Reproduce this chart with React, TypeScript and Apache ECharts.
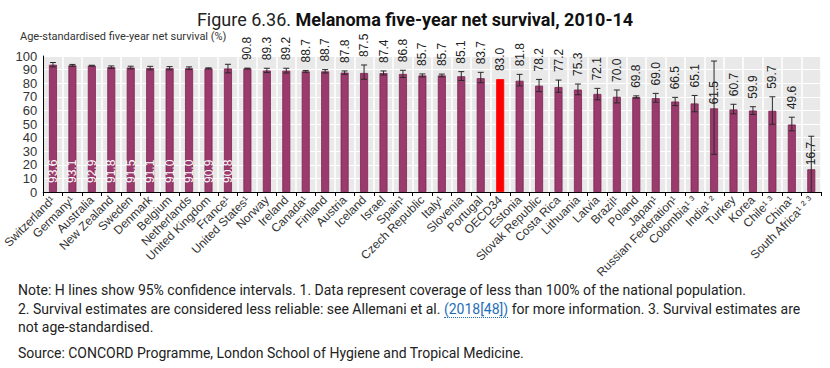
import React, { useEffect, useRef } from "react";
import * as echarts from "echarts";

const countries = [
  "Switzerland¹", "Germany¹", "Australia", "New Zealand", "Sweden", "Denmark", "Belgium",
  "Netherlands", "United Kingdom", "France¹", "United States¹", "Norway", "Ireland", "Canada¹",
  "Finland", "Austria", "Iceland", "Israel", "Spain¹", "Czech Republic", "Italy¹", "Slovenia",
  "Portugal", "OECD34", "Estonia", "Slovak Republic", "Costa Rica", "Lithuania", "Latvia",
  "Brazil¹", "Poland", "Japan¹", "Russian Federation¹", "Colombia¹ ³", "India¹ ²", "Turkey",
  "Korea", "Chile¹ ³", "China¹", "South Africa¹ ² ³",
];
const survival = [
  93.6, 93.1, 92.9, 91.8, 91.5, 91.1, 91.0, 91.0, 90.9, 90.8, 90.8, 89.3, 89.2, 88.7, 88.7,
  87.8, 87.5, 87.4, 86.8, 85.7, 85.7, 85.1, 83.7, 83.0, 81.8, 78.2, 77.2, 75.3, 72.1, 70.0,
  69.8, 69.0, 66.5, 65.1, 61.5, 60.7, 59.9, 59.7, 49.6, 16.7,
];
const ciLow = [
  92.0, 92.4, 92.6, 90.9, 90.5, 89.8, 89.8, 90.0, 90.5, 87.6, 90.5, 87.8, 87.5, 88.0, 87.5,
  86.5, 82.9, 86.0, 84.2, 84.6, 84.7, 82.0, 80.4, null, 78.0, 73.8, 73.3, 71.5, 67.8, 65.5,
  69.0, 66.0, 63.5, 59.0, 27.7, 57.5, 57.0, 49.8, 45.0, 0,
];
const ciHigh = [
  95.2, 93.8, 93.2, 92.7, 92.5, 92.4, 92.2, 92.0, 91.3, 93.9, 91.1, 91.0, 91.0, 89.4, 90.0,
  89.0, 93.4, 89.0, 89.5, 86.8, 86.7, 88.5, 88.0, null, 86.5, 82.8, 82.3, 79.4, 76.2, 75.0,
  70.7, 72.5, 69.6, 71.0, 96.3, 64.5, 62.7, 70.0, 55.0, 41.0,
];
const insideLabelCount = 10;
const highlighted = "OECD34";

const BAR = "#9b3a6d";
const BAR_EDGE = "#7d2352";
const RED = "#ff0000";
const NARROW = "'Liberation Sans Narrow', 'Roboto', sans-serif";
const SANS = "'Liberation Sans', Arial, sans-serif";

export default function App() {
  const ref = useRef<HTMLDivElement>(null);

  useEffect(() => {
    if (!ref.current) return;
    const chart = echarts.init(ref.current, undefined, { renderer: "svg" });

    const barData = survival.map((v, i) => {
      const isHi = countries[i] === highlighted;
      return {
        value: v,
        itemStyle: {
          color: isHi ? RED : BAR,
          borderColor: isHi ? RED : BAR_EDGE,
          borderWidth: 0.8,
        },
        label:
          i < insideLabelCount
            ? {
                show: true,
                position: "insideBottom",
                rotate: 90,
                align: "left",
                verticalAlign: "middle",
                distance: 9,
                color: "#ffffff",
                fontSize: 12,
                fontFamily: SANS,
                formatter: v.toFixed(1),
              }
            : { show: false },
      };
    });

    const errData = survival.map((v, i) => {
      const has = ciLow[i] !== null && ciHigh[i] !== null ? 1 : 0;
      return [i, v, has ? (ciLow[i] as number) : v, has ? (ciHigh[i] as number) : v, has];
    });

    chart.setOption({
      animation: false,
      title: {
        text: "{a|Figure 6.36. }{b|Melanoma five-year net survival, 2010-14}",
        left: "center",
        top: 5,
        textStyle: {
          rich: {
            a: { fontSize: 18, fontFamily: NARROW, color: "#222", fontWeight: "normal" },
            b: { fontSize: 18, fontFamily: NARROW, color: "#111", fontWeight: "bold" },
          },
        },
      },
      graphic: [
        {
          type: "text",
          left: 20,
          top: 31,
          style: {
            text: "Age-standardised five-year net survival (%)",
            fontSize: 11,
            fontFamily: NARROW,
            fill: "#333",
          },
        },
      ],
      grid: {
        left: 36,
        right: 9,
        top: 56,
        bottom: 176,
        show: true,
        backgroundColor: "#e9e9e9",
        borderWidth: 0,
      },
      xAxis: {
        type: "category",
        data: countries,
        axisLine: { show: true, lineStyle: { color: "#000", width: 1 } },
        axisTick: { show: true, length: 4, lineStyle: { color: "#000" } },
        splitLine: { show: true, interval: 0, lineStyle: { color: "#ffffff", width: 1.5 } },
        axisLabel: {
          interval: 0,
          rotate: 45,
          fontSize: 12,
          fontFamily: SANS,
          color: "#333",
          margin: 6,
        },
      },
      yAxis: {
        type: "value",
        min: 0,
        max: 100,
        interval: 10,
        axisLine: { show: true, lineStyle: { color: "#000", width: 1 } },
        axisTick: { show: false },
        splitLine: { show: true, lineStyle: { color: "#ffffff", width: 1 } },
        axisLabel: { fontSize: 13, fontFamily: SANS, color: "#333", margin: 6 },
      },
      series: [
        {
          type: "bar",
          data: barData,
          barWidth: 8,
          z: 2,
        },
        {
          type: "custom",
          data: errData,
          z: 3,
          clip: false,
          renderItem: (params: any, api: any) => {
            const i = api.value(0);
            const v = api.value(1);
            const lo = api.value(2);
            const hi = api.value(3);
            const has = api.value(4) === 1;
            const children: any[] = [];
            const cap = 3;
            const ls = { stroke: "#2a2a2a", lineWidth: 1 };
            if (has) {
              const pLo = api.coord([i, lo]);
              const pHi = api.coord([i, hi]);
              children.push({ type: "line", shape: { x1: pLo[0], y1: pLo[1], x2: pHi[0], y2: pHi[1] }, style: ls });
              children.push({ type: "line", shape: { x1: pHi[0] - cap, y1: pHi[1], x2: pHi[0] + cap, y2: pHi[1] }, style: ls });
              if (lo > 0) {
                children.push({ type: "line", shape: { x1: pLo[0] - cap, y1: pLo[1], x2: pLo[0] + cap, y2: pLo[1] }, style: ls });
              }
            }
            if (i >= insideLabelCount) {
              const wide = has && hi - lo > 25;
              const anchor = !has || wide ? v : hi;
              const p = api.coord([i, anchor]);
              children.push({
                type: "text",
                x: p[0],
                y: p[1] - (wide ? 4 : 8),
                rotation: Math.PI / 2,
                style: {
                  text: v.toFixed(1),
                  align: "left",
                  verticalAlign: "middle",
                  fontSize: 12,
                  fontFamily: SANS,
                  fill: "#222",
                },
              });
            }
            return { type: "group", children };
          },
        },
      ],
    });

    return () => chart.dispose();
  }, []);

  const noteStyle: React.CSSProperties = {
    position: "absolute",
    left: 18,
    fontFamily: NARROW,
    fontSize: 14,
    color: "#222",
    whiteSpace: "nowrap",
    lineHeight: "18.5px",
  };

  return (
    <div style={{ position: "absolute", left: 0, top: 0, width: 830, height: 368, background: "#fff" }}>
      <div ref={ref} style={{ width: 830, height: 368 }} />
      <div style={{ ...noteStyle, top: 281 }}>
        Note: H lines show 95% confidence intervals. 1. Data represent coverage of less than 100% of the national population.
        <br />
        2. Survival estimates are considered less reliable: see Allemani et al.{" "}
        <span style={{ color: "#1f6fb8", borderBottom: "1px dotted #1f6fb8" }}>(2018[48])</span> for more information. 3. Survival estimates are
        <br />
        not age-standardised.
      </div>
      <div style={{ ...noteStyle, top: 344 }}>
        Source: CONCORD Programme, London School of Hygiene and Tropical Medicine.
      </div>
    </div>
  );
}
